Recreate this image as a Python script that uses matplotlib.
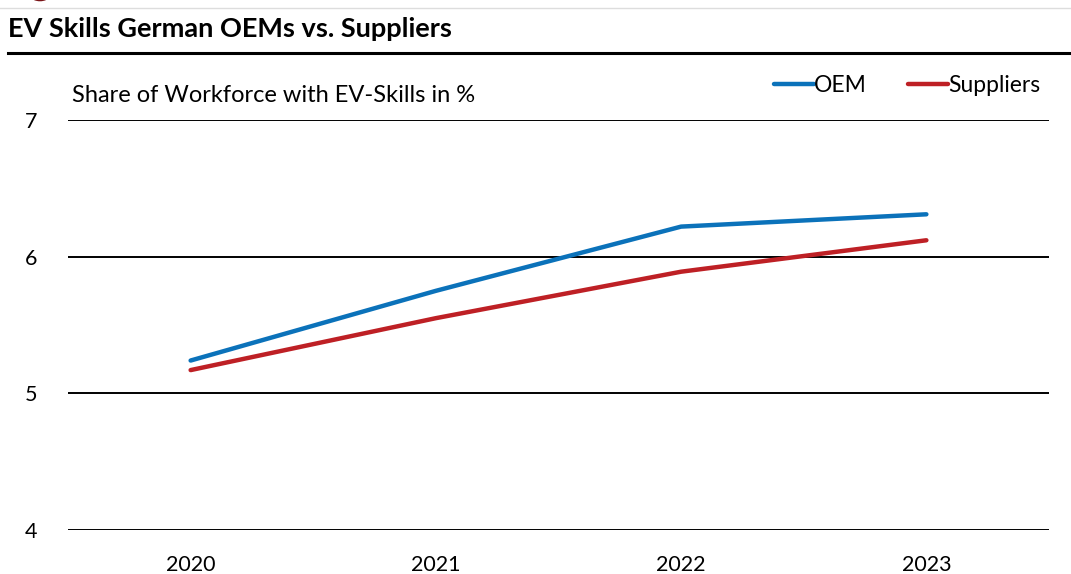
import matplotlib.pyplot as plt
from matplotlib.lines import Line2D
from matplotlib.patches import Circle

plt.rcParams['font.family'] = ['Lato', 'DejaVu Sans']

years = ['2020', '2021', '2022', '2023']
oem = [5.24, 5.75, 6.22, 6.31]
suppliers = [5.17, 5.55, 5.89, 6.12]
yticks = [4, 5, 6, 7]

W, H = 1071, 574
fig = plt.figure(figsize=(W / 100, H / 100), dpi=100)

# axes placed so the grid spans x 68..1049, y=7 at 120px and y=4 at 530px
ax = fig.add_axes([68 / W, 1 - 530 / H, (1049 - 68) / W, (530 - 120) / H])
x = range(len(years))
ax.plot(x, oem, color='#0B72BA', lw=3.2, solid_capstyle='round', clip_on=False)
ax.plot(x, suppliers, color='#BE2025', lw=3.2, solid_capstyle='round', clip_on=False)

ax.set_xlim(-0.5, 3.5)
ax.set_ylim(4, 7)
ax.set_yticks(yticks)
ax.set_xticks(list(x))
ax.set_xticklabels(years)
for s in ax.spines.values():
    s.set_visible(False)
ax.grid(axis='y', color='black', lw=1.4)
ax.tick_params(axis='both', length=0, labelsize=15.5, colors='black')
ax.tick_params(axis='y', pad=22)
ax.tick_params(axis='x', pad=18)

# header
fig.add_artist(Line2D([0, 1], [1 - 8 / H, 1 - 8 / H], color='#dddddd', lw=1))
fig.add_artist(Circle((40 / W, 1 + 4 / H), 0.008, transform=fig.transFigure,
                      color='#7a1518', clip_on=True))
fig.text(8 / W, 1 - 29 / H, 'EV Skills German OEMs vs. Suppliers', fontsize=19.5,
         fontweight='bold', va='center', ha='left')
fig.add_artist(Line2D([8 / W, 1], [1 - 53 / H, 1 - 53 / H], color='black', lw=2.2))

fig.text(72 / W, 1 - 95 / H, 'Share of Workforce with EV-Skills in %', fontsize=17,
         va='center', ha='left')

# legend
ax.legend([Line2D([], [], color='#0B72BA', lw=3.2, solid_capstyle='round'),
           Line2D([], [], color='#BE2025', lw=3.2, solid_capstyle='round')],
          ['OEM', 'Suppliers'], ncol=2, frameon=False, fontsize=16.5,
          loc='center right', bbox_to_anchor=(1040 / W, 1 - 86 / H),
          bbox_transform=fig.transFigure, handlelength=1.75, handletextpad=0.0,
          columnspacing=1.8, borderaxespad=0, borderpad=0)

fig.savefig('out.png', dpi=100)
